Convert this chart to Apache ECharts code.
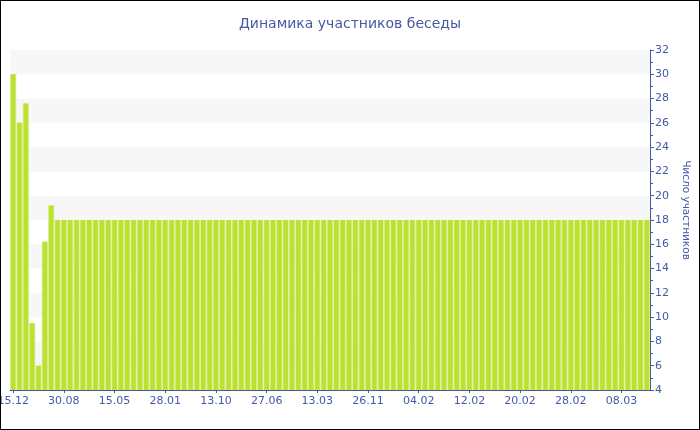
<!DOCTYPE html>
<html>
<head>
<meta charset="utf-8">
<script src="https://cdn.jsdelivr.net/npm/echarts@6/dist/echarts.min.js"></script>
<style>
  html, body { margin: 0; padding: 0; background: #fff; }
  #chart { position: absolute; left: 0; top: 0; width: 700px; height: 430px; }
  #frame { position: absolute; left: 0; top: 0; width: 700px; height: 430px; box-sizing: border-box; border: 1px solid #000; pointer-events: none; }
</style>
</head>
<body>
<div id="chart"></div>
<div id="frame"></div>
<script>
const titleText = 'Динамика участников беседы';
const yAxisName = 'Число участников';

const categories = [
  '15.12','16.01','17.02','21.03','22.04','24.05','25.06','27.07',
  '30.08','01.10','02.11','04.12','05.01','06.02','10.03','11.04',
  '15.05','16.06','18.07','19.08','20.09','22.10','23.11','26.12',
  '28.01','01.03','02.04','04.05','05.06','07.07','08.08','10.09',
  '13.10','14.11','16.12','17.01','18.02','22.03','23.04','25.05',
  '27.06','29.07','30.08','01.10','02.11','04.12','05.01','06.02',
  '13.03','14.04','16.05','17.06','19.07','20.08','21.09','23.10',
  '26.11','05.12','14.12','23.12','01.01','08.01','17.01','26.01',
  '04.02','05.02','06.02','07.02','08.02','09.02','10.02','11.02',
  '12.02','13.02','14.02','15.02','16.02','17.02','18.02','19.02',
  '20.02','21.02','22.02','23.02','24.02','25.02','26.02','27.02',
  '28.02','01.03','02.03','03.03','04.03','05.03','06.03','07.03',
  '08.03','09.03','10.03','11.03','12.03'
];

const participants = [
  30, 26, 27.6, 9.5, 6, 16.2, 19.2, 18,
  18, 18, 18, 18, 18, 18, 18, 18,
  18, 18, 18, 18, 18, 18, 18, 18,
  18, 18, 18, 18, 18, 18, 18, 18,
  18, 18, 18, 18, 18, 18, 18, 18,
  18, 18, 18, 18, 18, 18, 18, 18,
  18, 18, 18, 18, 18, 18, 18, 18,
  18, 18, 18, 18, 18, 18, 18, 18,
  18, 18, 18, 18, 18, 18, 18, 18,
  18, 18, 18, 18, 18, 18, 18, 18,
  18, 18, 18, 18, 18, 18, 18, 18,
  18, 18, 18, 18, 18, 18, 18, 18,
  18, 18, 18, 18, 18
];

const yMin = 4, yMax = 32, yStep = 2;
const labelEvery = 8;

const blue = '#4659a3';
const font = 'DejaVu Sans, Verdana, sans-serif';

const chart = echarts.init(document.getElementById('chart'), null, { renderer: 'canvas' });
chart.setOption({
  backgroundColor: '#ffffff',
  animation: false,
  title: {
    text: titleText,
    left: 'center',
    top: 12,
    textStyle: { color: blue, fontFamily: font, fontSize: 14, fontWeight: 'normal' }
  },
  grid: { left: 10, right: 50, top: 50, bottom: 40, containLabel: false, outerBoundsMode: 'none' },
  xAxis: [
    {
      type: 'category',
      data: categories,
      axisLine: { show: true, lineStyle: { color: blue, width: 1 } },
      axisTick: { show: true, alignWithLabel: true, interval: labelEvery - 1, length: 3, lineStyle: { color: blue } },
      axisLabel: { interval: labelEvery - 1, margin: 6, color: blue, fontFamily: font, fontSize: 11, hideOverlap: false },
      splitLine: { show: false }
    },
    {
      type: 'category',
      data: categories,
      show: false
    }
  ],
  yAxis: {
    type: 'value',
    position: 'right',
    min: yMin,
    max: yMax,
    interval: yStep,
    name: yAxisName,
    nameLocation: 'middle',
    nameRotate: -90,
    nameGap: 27,
    nameTextStyle: { color: blue, fontFamily: font, fontSize: 10.5, padding: [0, 20, 0, 0] },
    axisLine: { show: true, lineStyle: { color: blue, width: 1 } },
    axisTick: { show: true, length: 4, lineStyle: { color: blue } },
    minorTick: { show: true, splitNumber: 2, length: 3, lineStyle: { color: blue } },
    axisLabel: { margin: 5, color: blue, fontFamily: font, fontSize: 11 },
    splitLine: { show: false },
    splitArea: { show: true, areaStyle: { color: ['#ffffff', '#f7f7f7'] } }
  },
  series: [
    {
      name: 'gap',
      type: 'bar',
      xAxisIndex: 1,
      data: participants,
      barCategoryGap: '0%',
      itemStyle: { color: '#dcef9c' },
      silent: true,
      z: 1
    },
    {
      name: yAxisName,
      type: 'bar',
      xAxisIndex: 0,
      data: participants,
      barCategoryGap: '28%',
      itemStyle: { color: '#bce130' },
      z: 2
    }
  ]
});
</script>
</body>
</html>
